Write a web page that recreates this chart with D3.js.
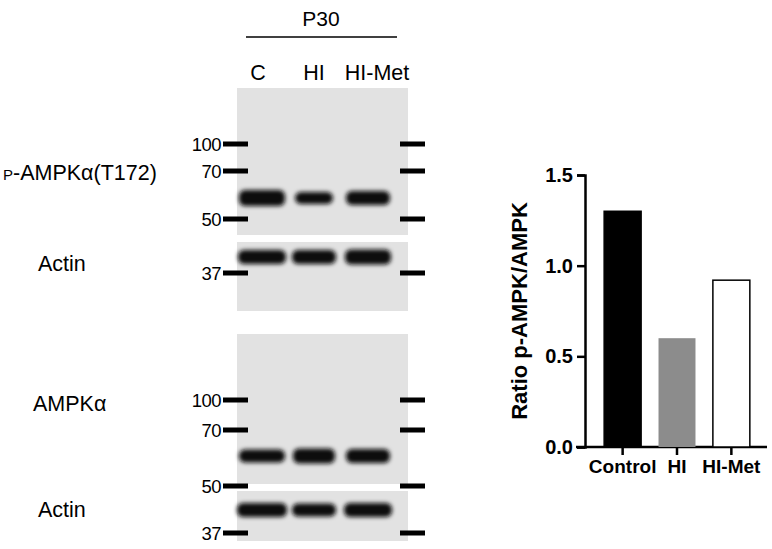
<!DOCTYPE html><html><head><meta charset="utf-8">
<script src="https://cdn.jsdelivr.net/npm/d3@7"></script>
<style>body{margin:0;background:#fff}text{font-family:Arial,"Liberation Sans",sans-serif}</style></head><body>
<svg id="c" width="772" height="549"></svg>
<script>
const groups=["Control","HI","HI-Met"];
const ratio=[1.30,0.60,0.92];
const barFill=["#000","#8c8c8c","#fff"];
const yTicks=[0,0.5,1.0,1.5];
const lanes=["C","HI","HI-Met"];
const markersTop=[["100",144],["70",171],["50",219],["37",273]];
const markersBot=[["100",400],["70",430],["50",486],["37",533]];
const svg=d3.select("#c");
const defs=svg.append("defs");
const f=defs.append("filter").attr("id","blur").attr("x","-20%").attr("y","-50%").attr("width","140%").attr("height","200%");
f.append("feGaussianBlur").attr("stdDeviation","2.2");
svg.append("text").attr("x",321).attr("y",26).attr("text-anchor","middle").attr("font-size",21).text("P30");
svg.append("line").attr("x1",246).attr("x2",397).attr("y1",37).attr("y2",37).attr("stroke","#000").attr("stroke-width",1.5);
const laneX=[258,314,377];
lanes.forEach((l,i)=>svg.append("text").attr("x",laneX[i]).attr("y",80).attr("text-anchor","middle").attr("font-size",21.5).text(l));
const panels=[{y0:88,y1:235,band:198,h:[16,12,14],w:[46,38,44]},{y0:242,y1:311,band:257,h:[14,14,15],w:[48,44,46]},
{y0:334,y1:484,band:456,h:[13,15,14],w:[46,42,44]},{y0:491,y1:541,band:510,h:[14,13,14],w:[50,44,48]}];
const bx=[262,314,368];
panels.forEach(p=>{
 svg.append("rect").attr("x",237).attr("y",p.y0).attr("width",171).attr("height",p.y1-p.y0).attr("fill","#e2e2e2");
 bx.forEach((x,i)=>svg.append("rect").attr("x",x-p.w[i]/2).attr("y",p.band-p.h[i]/2).attr("width",p.w[i]).attr("height",p.h[i]).attr("rx",6).attr("fill","#111").attr("filter","url(#blur)"));
});
[...markersTop,...markersBot].forEach(([t,y])=>{
 svg.append("rect").attr("x",223).attr("y",y-2.5).attr("width",25).attr("height",5).attr("fill","#000");
 svg.append("rect").attr("x",400).attr("y",y-2.5).attr("width",25).attr("height",5).attr("fill","#000");
 svg.append("text").attr("x",221).attr("y",y+6.5).attr("text-anchor","end").attr("font-size",18.5).attr("letter-spacing",-0.5).text(t);
});
const lbl=[["P-AMPKα(T172)",180,3],["Actin",271,38],["AMPKα",411,33],["Actin",517,38]];
lbl.forEach(([t,y,x])=>{const te=svg.append("text").attr("x",x).attr("y",y).attr("font-size",21.5);
 if(t.startsWith("P-")){te.append("tspan").attr("font-size",15).text("P");te.append("tspan").text(t.slice(1));}else te.text(t);});
const y=d3.scaleLinear().domain([0,1.5]).range([447,175]);
const x=d3.scaleBand().domain(groups).range([596,758]).paddingInner(0.32).paddingOuter(0.15);
const g=svg.append("g");
g.append("g").attr("transform","translate(585,0)").call(d3.axisLeft(y).tickValues(yTicks).tickFormat(d3.format(".1f")).tickSize(8).tickPadding(4))
 .call(a=>{a.selectAll("path,line").attr("stroke","#000").attr("stroke-width",2.5);a.selectAll("text").attr("font-size",20).attr("font-weight","bold").attr("fill","#000");});
g.append("g").attr("transform","translate(0,447)").call(d3.axisBottom(x).tickSize(8).tickPadding(5).tickSizeOuter(0))
 .call(a=>{a.select("path").attr("d","M576,0H767").attr("stroke","#000").attr("stroke-width",2.5);a.selectAll("line").attr("stroke","#000").attr("stroke-width",2.5);a.selectAll("text").attr("font-size",19).attr("font-weight","bold").attr("fill","#000");});
g.selectAll(".bar").data(groups).enter().append("rect").attr("x",d=>x(d)).attr("width",x.bandwidth())
 .attr("y",(d,i)=>y(ratio[i])).attr("height",(d,i)=>447-y(ratio[i])).attr("fill",(d,i)=>barFill[i]).attr("stroke","#000").attr("stroke-width",(d,i)=>i==1?0:1.5);
svg.append("text").attr("transform","translate(527,311) rotate(-90)").attr("text-anchor","middle").attr("font-size",22).attr("font-weight","bold").text("Ratio p-AMPK/AMPK");
</script></body></html>
